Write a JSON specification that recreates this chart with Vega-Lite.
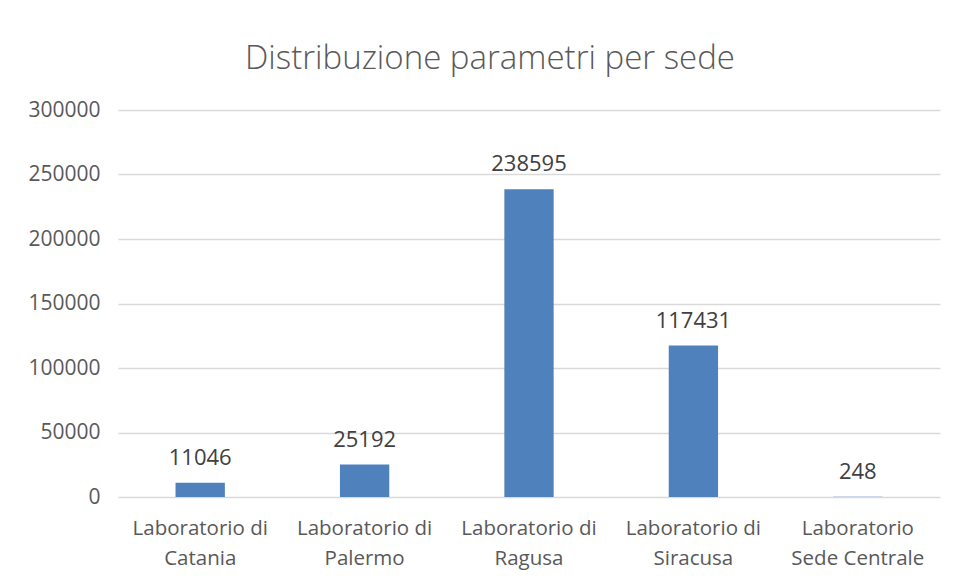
{
  "$schema": "https://vega.github.io/schema/vega-lite/v6.json",
  "autosize": "none",
  "width": 822,
  "height": 387,
  "padding": {"left": 118, "top": 110, "right": 13, "bottom": 85},
  "background": "white",
  "title": {
    "text": "Distribuzione parametri per sede",
    "font": "Open Sans",
    "fontSize": 33,
    "fontWeight": 300,
    "color": "#595959",
    "anchor": "middle",
    "dx": -39,
    "offset": 23
  },
  "config": {
    "view": {"stroke": null},
    "font": "Open Sans"
  },
  "data": {
    "values": [
      {"sede": "Laboratorio di Catania", "valore": 11046},
      {"sede": "Laboratorio di Palermo", "valore": 25192},
      {"sede": "Laboratorio di Ragusa", "valore": 238595},
      {"sede": "Laboratorio di Siracusa", "valore": 117431},
      {"sede": "Laboratorio Sede Centrale", "valore": 248}
    ]
  },
  "encoding": {
    "x": {
      "field": "sede",
      "type": "nominal",
      "sort": null,
      "scale": {"paddingInner": 0.7, "paddingOuter": 0.35},
      "axis": {
        "title": null,
        "labelAngle": 0,
        "domain": false,
        "ticks": false,
        "labelFont": "Open Sans",
        "labelFontSize": 20.5,
        "labelColor": "#595959",
        "labelPadding": 21,
        "labelLineHeight": 30,
        "labelExpr": "datum.label == 'Laboratorio Sede Centrale' ? ['Laboratorio', 'Sede Centrale'] : ['Laboratorio di', replace(datum.label, 'Laboratorio di ', '')]"
      }
    },
    "y": {
      "field": "valore",
      "type": "quantitative",
      "scale": {"domain": [0, 300000]},
      "axis": {
        "title": null,
        "values": [0, 50000, 100000, 150000, 200000, 250000, 300000],
        "format": "d",
        "domain": false,
        "ticks": false,
        "labelFont": "Open Sans",
        "labelFontSize": 21,
        "labelColor": "#595959",
        "labelPadding": 18,
        "gridColor": "#d9d9d9",
        "gridWidth": 1.3
      }
    }
  },
  "layer": [
    {"mark": {"type": "bar", "color": "#4f81bd"}},
    {
      "mark": {
        "type": "text",
        "baseline": "middle",
        "dy": -25,
        "font": "Open Sans",
        "fontSize": 22,
        "color": "#404040"
      },
      "encoding": {"text": {"field": "valore", "type": "quantitative", "format": "d"}}
    }
  ]
}
